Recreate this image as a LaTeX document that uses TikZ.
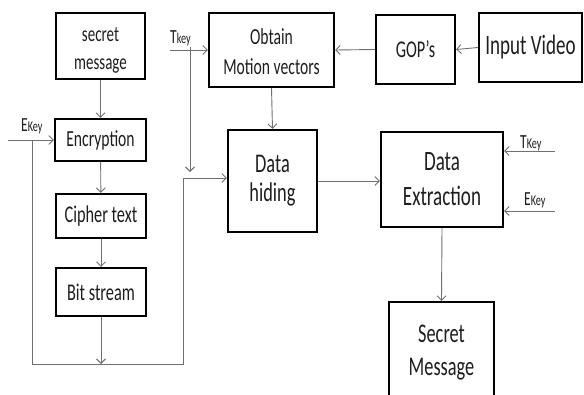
\documentclass[tikz,border=0pt]{standalone}
\usepackage{fontspec}
\setmainfont{Carlito}
\newfontfamily\narrowfont[FakeStretch=0.68]{Carlito}
\usetikzlibrary{arrows.meta}
\definecolor{wire}{HTML}{707070}
\definecolor{ink}{HTML}{1E1E1E}
% key label: large initial letter followed by a smaller suffix
\newcommand\keylabel[2]{{\fontsize{20}{20}\selectfont #1}{\fontsize{15}{15}\selectfont #2}}
\begin{document}
\begin{tikzpicture}[x=1pt,y=-1pt,
  blk/.style={draw=black,line width=2.2pt,inner sep=0pt,align=center,text=ink},
  txt/.style={inner sep=0pt,align=center,text=ink},
  sz/.style 2 args={font=\narrowfont\fontsize{#1}{#2}\selectfont},
  wirearrow/.style={draw=wire,line width=0.9pt,-{Straight Barb[length=4.5pt,width=9pt]}},
  wireline/.style={draw=wire,line width=0.9pt},
  keytext/.style={inner sep=0pt,anchor=base west,text=ink,font=\narrowfont}]
\clip (0,0) rectangle (584,394);
\fill[white] (0,0) rectangle (584,394);

% encryption chain
\node[blk,minimum width=89pt,minimum height=66pt] (msg) at (100.5,46) {};
\node[txt,sz={22}{28},yshift=-4pt] (msgtext) at (msg.center) {secret\\message};
\node[blk,sz={23}{28},minimum width=91pt,minimum height=42pt] (enc) at (100.5,140) {Encryption};
\node[blk,sz={24}{28},minimum width=90pt,minimum height=44pt] (cip) at (101,216) {Cipher text};
\node[blk,sz={24}{28},minimum width=90pt,minimum height=48pt] (bit) at (101,292) {Bit stream};

% video path
\node[blk,minimum width=125pt,minimum height=74pt] (mv) at (271.5,50) {};
\node[txt,sz={23}{30},yshift=-2pt] (mvtext) at (mv.center) {Obtain\\Motion vectors};
\node[blk,sz={24}{28},minimum width=79pt,minimum height=69pt] (gop) at (415.5,49.5) {GOP’s};
\node[blk,sz={28}{32},minimum width=103pt,minimum height=69pt] (vid) at (530.5,47.5) {Input Video};

% hiding and extraction
\node[blk,sz={27}{29},minimum width=89pt,minimum height=102pt] (hide) at (272.5,181) {Data\\hiding};
\node[blk,sz={28}{35},minimum width=122pt,minimum height=95pt] (ext) at (442,179.5) {Data\\Extraction};
\node[blk,minimum width=105pt,minimum height=113pt] (sec) at (441.5,358.5) {};
\node[txt,sz={27}{33},yshift=6pt] (sectext) at (sec.center) {Secret\\Message};

% key labels
\node[keytext] (tkl) at (170,43) {\keylabel{T}{key}};
\node[keytext] (ekl) at (21,131) {\keylabel{E}{Key}};
\node[keytext] (tkr) at (520,148) {\keylabel{T}{Key}};
\node[keytext] (ekr) at (524,205) {\keylabel{E}{Key}};

% free ends of the wires
\coordinate (ekin) at (8,140);
\coordinate (lt) at (32,140);
\coordinate (lb) at (32,364);
\coordinate (rb) at (183,364);
\coordinate (rt) at (183,178);
\coordinate (tin) at (170,50);
\coordinate (ttop) at (190,47);
\coordinate (tbot) at (190,172);
\coordinate (tkin) at (555,151);
\coordinate (ekin2) at (555,211);

% encryption chain wires
\draw[wirearrow] (msg) -- (enc);
\draw[wirearrow] (enc) -- (cip);
\draw[wirearrow] (cip) -- (bit);
\draw[wirearrow] (bit) -- (bit |- lb);
\draw[wirearrow] (ekin) -- (enc.west);
\draw[wireline] (lt) -- (lb) -- (rb) -- (rt);
\draw[wirearrow] (rt) -- (rt -| hide.west);

% key wires
\draw[wirearrow] (tin) -- (tin -| mv.west);
\draw[wirearrow] (ttop) -- (tbot);
\draw[wirearrow] (tkin) -- (tkin -| ext.east);
\draw[wirearrow] (ekin2) -- (ekin2 -| ext.east);

% video path wires
\draw[wirearrow] (vid.west) -- (gop.east);
\draw[wirearrow] (gop.west) -- (mv.east);
\draw[wirearrow] (mv.south) -- (hide.north);
\draw[wirearrow] (hide.east) -- (hide.east -| ext.west);
\draw[wirearrow] (ext.south) -- (sec.north);
\end{tikzpicture}
\end{document}
